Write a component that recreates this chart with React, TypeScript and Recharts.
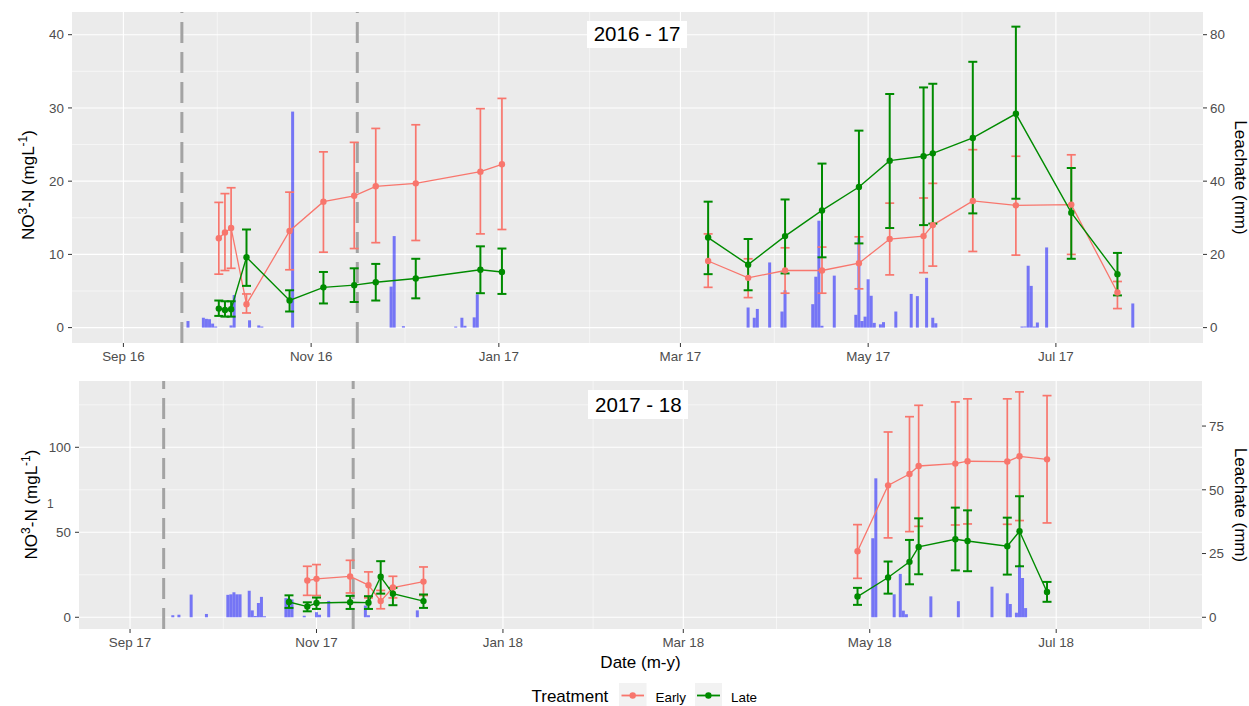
import { ComposedChart, Bar, Line, ErrorBar, XAxis, YAxis, CartesianGrid, ReferenceLine } from 'recharts';

const DAY = 86400000;
const day = (s: string) =>
  Math.round(Date.UTC(+s.slice(0, 4), +s.slice(5, 7) - 1, +s.slice(8, 10)) / DAY);
const MONTHS = ['Jan', 'Feb', 'Mar', 'Apr', 'May', 'Jun', 'Jul', 'Aug', 'Sep', 'Oct', 'Nov', 'Dec'];
const fmtMonth = (t: number) => {
  const d = new Date(t * DAY);
  return `${MONTHS[d.getUTCMonth()]} ${String(d.getUTCFullYear()).slice(2)}`;
};

const EARLY = '#F8766D';
const LATE = '#008B00';
const PANEL_BG = '#EBEBEB';
const FONT = "'Liberation Sans', Arial, sans-serif";

// ---------- 2016 - 17 ----------
const sampleDates1617 = [
  '2016-10-02', '2016-10-04', '2016-10-06', '2016-10-11', '2016-10-25', '2016-11-05', '2016-11-15',
  '2016-11-22', '2016-12-05', '2016-12-26', '2017-01-02', '2017-03-10', '2017-03-23', '2017-04-04',
  '2017-04-16', '2017-04-28', '2017-05-08', '2017-05-19', '2017-05-22', '2017-06-04', '2017-06-18',
  '2017-07-06', '2017-07-21',
];
const earlyMean1617 = [12.2, 13.0, 13.6, 3.2, 13.2, 17.2, 18.0, 19.3, 19.7, 21.3, 22.3, 9.1, 6.8, 7.8, 7.8, 8.8, 12.1, 12.5, 14.0, 17.3, 16.7, 16.8, 4.8];
const earlyLow1617 = [7.3, 7.8, 8.1, 2.0, 7.9, 10.3, 10.8, 11.6, 11.9, 12.8, 13.4, 5.5, 4.1, 4.7, 4.7, 5.3, 7.2, 7.5, 8.4, 10.4, 9.9, 10.0, 2.6];
const earlyHigh1617 = [17.1, 18.3, 19.1, 4.6, 18.5, 24.0, 25.3, 27.2, 27.7, 29.9, 31.3, 12.8, 9.4, 10.9, 11.0, 12.4, 17.0, 17.7, 19.7, 24.3, 23.4, 23.6, 6.3];
const lateMean1617 = [2.6, 2.4, 2.5, 9.6, 3.7, 5.5, 5.8, 6.2, 6.7, 7.9, 7.6, 12.3, 8.6, 12.5, 16.0, 19.2, 22.8, 23.4, 23.8, 25.9, 29.2, 15.7, 7.3];
const lateLow1617 = [1.6, 1.5, 1.5, 5.7, 2.2, 3.3, 3.5, 3.7, 4.0, 4.7, 4.6, 7.3, 5.1, 7.4, 9.6, 11.5, 13.6, 14.0, 14.2, 15.6, 17.6, 9.4, 4.4];
const lateHigh1617 = [3.7, 3.6, 3.6, 13.4, 5.1, 7.6, 8.1, 8.7, 9.4, 11.1, 10.8, 17.2, 12.1, 17.5, 22.4, 26.9, 31.9, 32.8, 33.3, 36.3, 41.1, 21.8, 10.2];
const leachDates1617 = [
  '2016-09-22', '2016-09-27', '2016-09-28', '2016-09-29', '2016-09-30', '2016-10-01', '2016-10-06',
  '2016-10-07', '2016-10-12', '2016-10-15', '2016-10-16', '2016-10-26', '2016-11-27', '2016-11-28',
  '2016-12-01', '2016-12-18', '2016-12-20', '2016-12-21', '2016-12-24', '2016-12-25', '2017-03-23',
  '2017-03-25', '2017-03-26', '2017-03-30', '2017-04-03', '2017-04-04', '2017-04-13', '2017-04-14',
  '2017-04-15', '2017-04-16', '2017-04-20', '2017-04-27', '2017-04-28', '2017-04-29', '2017-04-30',
  '2017-05-01', '2017-05-02', '2017-05-03', '2017-05-05', '2017-05-06', '2017-05-10', '2017-05-15',
  '2017-05-17', '2017-05-20', '2017-05-22', '2017-05-23', '2017-06-20', '2017-06-21', '2017-06-22',
  '2017-06-23', '2017-06-24', '2017-06-25', '2017-06-28', '2017-07-26',
];
const leachMm1617 = [
  1.8, 2.7, 2.4, 2.3, 1.1, 0.3, 0.6, 8.9, 2.0, 0.6, 0.3, 59.0, 11.2, 25.0, 0.4, 0.3, 2.7, 0.5, 2.8, 9.1,
  5.5, 2.7, 5.1, 17.8, 4.4, 10.2, 6.4, 13.9, 29.2, 0.5, 14.2, 3.5, 24.6, 1.8, 3.0, 13.2, 8.7, 1.3, 0.9,
  1.5, 4.4, 9.2, 8.6, 13.6, 2.7, 1.2, 0.3, 0.3, 16.9, 11.4, 0.3, 1.4, 21.9, 6.6,
];
const markers1617 = ['2016-09-20', '2016-11-16'];
const monthTicks1617 = ['2016-09-01', '2016-11-01', '2017-01-01', '2017-03-01', '2017-05-01', '2017-07-01'];
const winterGap1617 = '2017-02-01';

// ---------- 2017 - 18 ----------
const earlyDates1718 = [
  '2017-10-29', '2017-11-01', '2017-11-12', '2017-11-18', '2017-11-22', '2017-11-26', '2017-12-06',
  '2018-04-27', '2018-05-07', '2018-05-14', '2018-05-17', '2018-05-29', '2018-06-02', '2018-06-15',
  '2018-06-19', '2018-06-28',
];
const earlyMean1718 = [21.6, 22.6, 24.0, 18.9, 9.5, 17.5, 21.0, 38.8, 77.6, 84.3, 89.0, 90.4, 91.8, 91.6, 94.7, 92.9];
const earlyLow1718 = [12.9, 12.8, 14.3, 11.4, 5.0, 11.4, 12.8, 22.9, 46.7, 50.4, 53.5, 54.3, 54.9, 54.7, 56.9, 55.5];
const earlyHigh1718 = [30.0, 31.0, 33.5, 26.7, 15.8, 24.1, 29.6, 54.5, 109.0, 118.0, 124.7, 126.7, 128.5, 128.5, 132.6, 130.4];
const lateDates1718 = ['2017-10-23', ...earlyDates1718];
const lateMean1718 = [9.0, 6.3, 8.4, 8.8, 8.6, 23.8, 13.9, 9.5, 12.2, 23.4, 32.6, 41.4, 45.9, 44.9, 41.8, 50.6, 14.9];
const lateLow1718 = [5.5, 3.5, 4.9, 4.9, 4.9, 13.9, 7.1, 5.5, 7.3, 13.9, 19.4, 25.3, 27.6, 27.1, 25.1, 30.0, 9.1];
const lateHigh1718 = [12.9, 8.8, 11.6, 12.6, 12.4, 33.0, 17.3, 13.4, 17.3, 32.8, 45.5, 58.2, 64.5, 62.9, 58.6, 71.2, 20.8];
const leachDates1718 = [
  '2017-09-15', '2017-09-17', '2017-09-21', '2017-09-26', '2017-10-03', '2017-10-04', '2017-10-05',
  '2017-10-06', '2017-10-07', '2017-10-10', '2017-10-11', '2017-10-12', '2017-10-13', '2017-10-14',
  '2017-10-15', '2017-10-22', '2017-10-23', '2017-10-24', '2017-10-28', '2017-11-01', '2017-11-02',
  '2017-11-05', '2017-11-17', '2017-11-18', '2017-12-04', '2018-05-02', '2018-05-03', '2018-05-09',
  '2018-05-11', '2018-05-12', '2018-05-13', '2018-05-21', '2018-05-30', '2018-06-10', '2018-06-15',
  '2018-06-16', '2018-06-18', '2018-06-19', '2018-06-20', '2018-06-21',
];
const leachMm1718 = [
  0.8, 1.0, 8.9, 1.3, 8.8, 9.0, 9.8, 9.0, 9.0, 10.4, 2.7, 0.5, 5.6, 8.0, 0.4, 7.5, 7.5, 7.0, 0.6, 2.0,
  1.0, 6.4, 4.6, 0.8, 2.7, 31.0, 54.5, 9.0, 17.0, 2.6, 1.2, 8.2, 6.3, 12.0, 9.4, 5.2, 1.8, 20.6, 15.4, 3.6,
];
const markers1718 = ['2017-09-12', '2017-11-13'];
const monthTicks1718 = ['2017-09-01', '2017-11-01', '2018-01-01', '2018-03-01', '2018-05-01', '2018-07-01'];
const winterGap1718 = '2018-02-01';

type Row = { t: number; [key: string]: number | [number, number] };

// autumn (A) and spring (B) samplings are drawn as separate lines, as in the original
function buildRows(
  gap: string,
  leachDates: string[], leachMm: number[],
  eDates: string[], eMean: number[], eLow: number[], eHigh: number[],
  lDates: string[], lMean: number[], lLow: number[], lHigh: number[],
): Row[] {
  const map = new Map<number, Row>();
  const get = (s: string) => {
    const t = day(s);
    if (!map.has(t)) map.set(t, { t });
    return map.get(t)!;
  };
  const part = (s: string) => (day(s) < day(gap) ? 'A' : 'B');
  leachDates.forEach((d, i) => { get(d).leach = leachMm[i]; });
  eDates.forEach((d, i) => {
    const r = get(d);
    r['early' + part(d)] = eMean[i];
    r['earlyErr' + part(d)] = [eMean[i] - eLow[i], eHigh[i] - eMean[i]];
  });
  lDates.forEach((d, i) => {
    const r = get(d);
    r['late' + part(d)] = lMean[i];
    r['lateErr' + part(d)] = [lMean[i] - lLow[i], lHigh[i] - lMean[i]];
  });
  return [...map.values()].sort((a, b) => a.t - b.t);
}

// minor breaks sit halfway between the monthly majors (plus one past the end)
const minorOf = (ticks: number[]) => {
  const out: number[] = [];
  for (let i = 0; i < ticks.length - 1; i++) out.push((ticks[i] + ticks[i + 1]) / 2);
  out.push(ticks[ticks.length - 1] + (ticks[ticks.length - 1] - ticks[ticks.length - 2]) / 2);
  return out;
};

const rows1617 = buildRows(winterGap1617, leachDates1617, leachMm1617, sampleDates1617, earlyMean1617, earlyLow1617, earlyHigh1617, sampleDates1617, lateMean1617, lateLow1617, lateHigh1617);
const rows1718 = buildRows(winterGap1718, leachDates1718, leachMm1718, earlyDates1718, earlyMean1718, earlyLow1718, earlyHigh1718, lateDates1718, lateMean1718, lateLow1718, lateHigh1718);

const LeftTitle = ({ cx, cy }: { cx: number; cy: number; viewBox?: unknown }) => (
  <text transform={`rotate(-90 ${cx} ${cy})`} x={cx} y={cy} textAnchor="middle" fontSize={17} fill="#000">
    NO<tspan dy={-7} fontSize={12}>3</tspan>
    <tspan dy={7}>-N (mgL</tspan>
    <tspan dy={-7} fontSize={12}>-1</tspan>
    <tspan dy={7}>)</tspan>
  </text>
);

const RightTitle = ({ cx, cy }: { cx: number; cy: number; viewBox?: unknown }) => (
  <text transform={`rotate(90 ${cx} ${cy})`} x={cx} y={cy} textAnchor="middle" fontSize={17} fill="#000">
    Leachate (mm)
  </text>
);

const XTitle = ({ x, y }: { x: number; y: number; viewBox?: unknown }) => (
  <text x={x} y={y} textAnchor="middle" fontSize={17} fill="#000">
    Date (m-y)
  </text>
);

type PanelProps = {
  rows: Row[];
  height: number;
  top: number;
  xHeight: number;
  leftWidth: number;
  rightWidth: number;
  xDomain: [number, number];
  xTicks: number[];
  yLeft: [number, number];
  yLeftTicks: number[];
  yLeftMinor: number[];
  yRight: [number, number];
  yRightTicks: number[];
  markers: number[];
  leftTitle: { cx: number; cy: number };
  rightTitle: { cx: number; cy: number };
  xTitle?: { x: number; y: number };
};

const tickStyle = { fill: '#4D4D4D', fontSize: 13.4 };

const seriesLine = (key: string, color: string, width: number, errWidth: number) => (
  <Line
    key={key}
    yAxisId="left"
    dataKey={key}
    stroke={color}
    strokeWidth={width}
    connectNulls
    dot={{ r: 3.2, fill: color, stroke: color, strokeWidth: 0 }}
    activeDot={false}
    isAnimationActive={false}
  >
    <ErrorBar dataKey={key.replace(/(A|B)$/, 'Err$1')} direction="y" width={4.5} stroke={color} strokeWidth={errWidth} />
  </Line>
);

function Panel(p: PanelProps) {
  return (
    <ComposedChart width={1249} height={p.height} data={p.rows} margin={{ top: p.top, right: 0, bottom: 0, left: 0 }}>
      <CartesianGrid yAxisId="left" fill={PANEL_BG} stroke="#FFFFFF" strokeWidth={1.1} syncWithTicks />
      <CartesianGrid
        yAxisId="left"
        stroke="#FFFFFF"
        strokeWidth={0.55}
        verticalValues={minorOf(p.xTicks)}
        horizontalValues={p.yLeftMinor}
        syncWithTicks
      />
      <XAxis
        dataKey="t"
        type="number"
        domain={p.xDomain}
        allowDataOverflow
        ticks={p.xTicks}
        interval={0}
        tickFormatter={fmtMonth}
        height={p.xHeight}
        axisLine={false}
        tickSize={4}
        tickMargin={4}
        tick={tickStyle}
        tickLine={{ stroke: '#333333' }}
        label={p.xTitle ? <XTitle x={p.xTitle.x} y={p.xTitle.y} /> : undefined}
      />
      <YAxis
        yAxisId="left"
        type="number"
        domain={p.yLeft}
        allowDataOverflow
        ticks={p.yLeftTicks}
        interval={0}
        width={p.leftWidth}
        axisLine={false}
        tickSize={4}
        tickMargin={4}
        tick={tickStyle}
        tickLine={{ stroke: '#333333' }}
        label={<LeftTitle cx={p.leftTitle.cx} cy={p.leftTitle.cy} />}
      />
      <YAxis
        yAxisId="right"
        orientation="right"
        type="number"
        domain={p.yRight}
        allowDataOverflow
        ticks={p.yRightTicks}
        interval={0}
        width={p.rightWidth}
        axisLine={false}
        tickSize={4}
        tickMargin={3}
        tick={tickStyle}
        tickLine={{ stroke: '#333333' }}
        label={<RightTitle cx={p.rightTitle.cx} cy={p.rightTitle.cy} />}
      />
      {p.markers.map(m => (
        <ReferenceLine key={m} x={m} yAxisId="left" stroke="#A3A3A3" strokeWidth={3} strokeDasharray="21 9" />
      ))}
      {seriesLine('earlyA', EARLY, 1.3, 1.7)}
      {seriesLine('earlyB', EARLY, 1.3, 1.7)}
      {seriesLine('lateA', LATE, 1.4, 2)}
      {seriesLine('lateB', LATE, 1.4, 2)}
      <Bar yAxisId="right" dataKey="leach" fill="#0000FF" fillOpacity={0.5} barSize={3} isAnimationActive={false} />
    </ComposedChart>
  );
}

const ticks1617 = monthTicks1617.map(day);
const ticks1718 = monthTicks1718.map(day);

export default function App() {
  return (
    <div style={{ position: 'absolute', left: 0, top: 0, width: 1249, height: 706, background: '#fff', fontFamily: FONT }}>
      <div style={{ position: 'absolute', left: 0, top: 0 }}>
        <Panel
          rows={rows1617}
          height={372}
          top={12}
          xHeight={29}
          leftWidth={72}
          rightWidth={46}
          xDomain={[ticks1617[0] - 16.7, ticks1617[5] + 47.8]}
          xTicks={ticks1617}
          yLeft={[-2.1, 43.1]}
          yLeftTicks={[0, 10, 20, 30, 40]}
          yLeftMinor={[5, 15, 25, 35]}
          yRight={[-4.2, 86.2]}
          yRightTicks={[0, 20, 40, 60, 80]}
          markers={markers1617.map(day)}
          leftTitle={{ cx: 33.5, cy: 185 }}
          rightTitle={{ cx: 1234.5, cy: 177.5 }}
        />
      </div>
      <div style={{ position: 'absolute', left: 0, top: 372 }}>
        <Panel
          rows={rows1718}
          height={334}
          top={9}
          xHeight={77}
          leftWidth={79}
          rightWidth={47}
          xDomain={[ticks1718[0] - 16.7, ticks1718[5] + 47.7]}
          xTicks={ticks1718}
          yLeft={[-6.9, 139.0]}
          yLeftTicks={[0, 50, 100]}
          yLeftMinor={[25, 75, 125]}
          yRight={[-4.6, 92.67]}
          yRightTicks={[0, 25, 50, 75]}
          markers={markers1718.map(day)}
          leftTitle={{ cx: 36.5, cy: 132.5 }}
          rightTitle={{ cx: 1234.5, cy: 133 }}
          xTitle={{ x: 640.5, y: 294 }}
        />
      </div>
      <svg
        width={1249}
        height={706}
        style={{ position: 'absolute', left: 0, top: 0, pointerEvents: 'none' }}
        fontFamily={FONT}
      >
        <rect x={587} y={21} width={100} height={27} fill="#FFFFFF" />
        <text x={637} y={41} textAnchor="middle" fontSize={20.5} fill="#000">2016 - 17</text>
        <rect x={588} y={390} width={100} height={29} fill="#FFFFFF" />
        <text x={638.3} y={411.5} textAnchor="middle" fontSize={20.5} fill="#000">2017 - 18</text>
        <text x={47} y={508} fontSize={12} fill="#4D4D4D">1</text>

        <text x={531.5} y={702} fontSize={17} fill="#000">Treatment</text>
        <rect x={619} y={683} width={27.5} height={23} fill="#F2F2F2" />
        <line x1={621.5} x2={644} y1={695.5} y2={695.5} stroke={EARLY} strokeWidth={1.8} />
        <circle cx={632.7} cy={695.5} r={3.2} fill={EARLY} />
        <text x={655.5} y={701.5} fontSize={13.4} fill="#000">Early</text>
        <rect x={695} y={683} width={27} height={23} fill="#F2F2F2" />
        <line x1={697} x2={720} y1={695.5} y2={695.5} stroke={LATE} strokeWidth={1.8} />
        <circle cx={708.4} cy={695.5} r={3.2} fill={LATE} />
        <text x={731} y={701.5} fontSize={13.4} fill="#000">Late</text>
      </svg>
    </div>
  );
}
